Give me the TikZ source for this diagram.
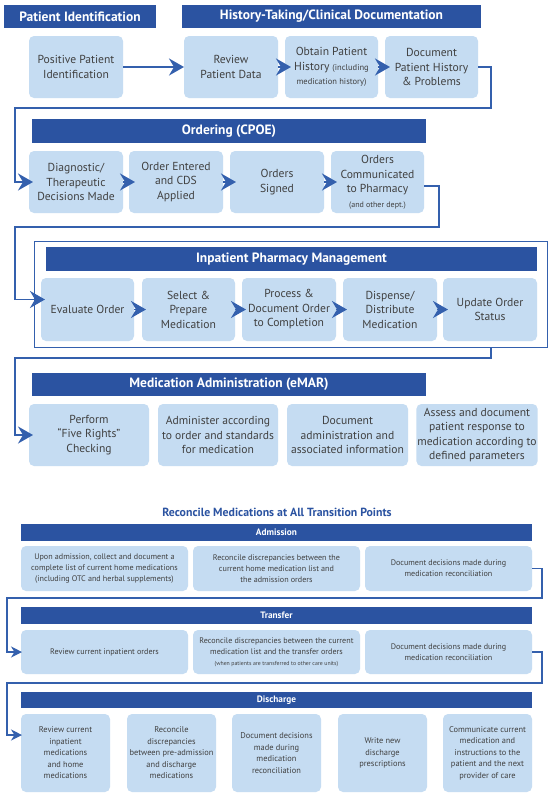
\documentclass[tikz,border=0pt]{standalone}
\usepackage{fontspec}
\setmainfont{PT Sans}
\usetikzlibrary{arrows.meta}
\definecolor{hblue}{HTML}{2B53A1}
\definecolor{lblue}{HTML}{C5DCF2}
\definecolor{cblue}{HTML}{3460AD}
\definecolor{tgray}{HTML}{404040}
\newcommand\mkbox[7][]{\node[#1, minimum width={(#5-#3)*1pt}, minimum height={(#6-#4)*1pt}] (#2) at ({(#3+#5)/2},{(#4+#6)/2}) {#7};}
\begin{document}
\begin{tikzpicture}[x=1pt,y=-1pt,
 lbox/.style={fill=lblue, rounded corners=5pt, inner sep=1pt, outer sep=0pt, align=center, text=tgray, font=\fontsize{11.6}{14.5}\selectfont},
 sbox/.style={lbox, font=\fontsize{8.1}{11}\selectfont},
 dbox/.style={lbox, font=\fontsize{8.4}{11.5}\selectfont},
 hbar/.style={fill=hblue, inner sep=1pt, outer sep=0pt, text=white, font=\bfseries\fontsize{13.5}{15}\selectfont},
 shbar/.style={hbar, font=\bfseries\fontsize{9.3}{10}\selectfont},
 pfr/.style={draw=cblue, line width=0.8pt, inner sep=0pt, outer sep=0pt},
 conn/.style={draw=cblue, line width=1.7pt},
 arr/.style={conn, -{Stealth[length=15pt,width=17pt,inset=5pt]}},
 sconn/.style={draw=cblue, line width=1.2pt},
 sarr/.style={sconn, -{Stealth[length=11pt,width=11pt,inset=3.5pt]}},
 ttl/.style={text=hblue, font=\bfseries\fontsize{11.8}{13}\selectfont, inner sep=0pt}]
\useasboundingbox (0,0) rectangle (550,804);
\fill[white] (0,0) rectangle (550,804);
% Section 1
\mkbox[hbar]{h1}{4}{5}{156}{28}{Patient Identification}
\mkbox[hbar]{h2}{182}{5}{481}{28}{History-Taking/Clinical Documentation}
\mkbox[lbox]{pid}{29}{36}{123}{98}{Positive Patient\\Identification}
\mkbox[lbox]{rev}{184}{36}{278}{98}{Review\\Patient Data}
\mkbox[lbox]{obt}{285}{36}{378}{98}{Obtain Patient\\History {\fontsize{8.5}{10}\selectfont(including}\\{\fontsize{8.5}{10}\selectfont medication history)}}
\mkbox[lbox]{doc}{385}{36}{478}{98}{Document\\Patient History\\\& Problems}
% Section 2
\mkbox[hbar]{h3}{32}{119}{426}{143}{Ordering (CPOE)}
\mkbox[lbox]{dia}{29}{151}{123}{213}{Diagnostic/\\Therapeutic\\Decisions Made}
\mkbox[lbox]{ord}{129}{151}{223}{213}{Order Entered\\and CDS\\Applied}
\mkbox[lbox]{sig}{230}{151}{324}{213}{Orders\\Signed}
\mkbox[lbox]{com}{331}{151}{424}{213}{Orders\\Communicated\\to Pharmacy\\{\fontsize{8}{9}\selectfont (and other dept.)}}
% Section 3
\mkbox[pfr]{pfr}{34}{241}{547}{347}{}
\mkbox[hbar]{h4}{46}{247}{537}{271}{Inpatient Pharmacy Management}
\mkbox[lbox]{eva}{41}{278}{134}{341}{Evaluate Order}
\mkbox[lbox]{sel}{142}{278}{235}{341}{Select \&\\Prepare\\Medication}
\mkbox[lbox]{pro}{242}{278}{336}{341}{Process \&\\Document Order\\to Completion}
\mkbox[lbox]{dis}{343}{278}{437}{341}{Dispense/\\Distribute\\Medication}
\mkbox[lbox]{upd}{443}{278}{537}{341}{Update Order\\Status}
% Section 4
\mkbox[hbar]{h5}{32}{373}{426}{396}{Medication Administration (eMAR)}
\mkbox[lbox]{per}{29}{404}{149}{466}{Perform\\“Five Rights”\\Checking}
\mkbox[lbox]{adm}{158}{404}{278}{466}{Administer according\\to order and standards\\for medication}
\mkbox[lbox]{dad}{287}{404}{408}{466}{Document\\administration and\\associated information}
\mkbox[lbox]{ass}{417}{404}{537}{466}{Assess and document\\patient response to\\medication according to\\defined parameters}
% Reconcile
\node[ttl] (rt) at (277,512) {Reconcile Medications at All Transition Points};
\mkbox[shbar]{ha}{21}{524}{532}{541}{Admission}
\mkbox[sbox]{a1}{21}{546}{188}{591}{Upon admission, collect and document a\\complete list of current home medications\\(including OTC and herbal supplements)}
\mkbox[sbox]{a2}{193}{546}{360}{591}{Reconcile discrepancies between the\\current home medication list and\\the admission orders}
\mkbox[sbox]{a3}{365}{546}{532}{591}{Document decisions made during\\medication reconciliation}
\mkbox[shbar]{ht}{21}{607}{532}{624}{Transfer}
\mkbox[sbox]{t1}{21}{630}{188}{674}{Review current inpatient orders}
\mkbox[sbox]{t2}{193}{630}{360}{674}{Reconcile discrepancies between the current\\medication list and the transfer orders\\{\fontsize{5.8}{7}\selectfont (when patients are transferred to other care units)}}
\mkbox[sbox]{t3}{365}{630}{532}{674}{Document decisions made during\\medication reconciliation}
\mkbox[shbar]{hd}{21}{692}{532}{708}{Discharge}
\mkbox[dbox]{d1}{21}{714}{110}{792}{Review current\\inpatient\\medications\\and home\\medications}
\mkbox[dbox]{d2}{127}{714}{216}{792}{Reconcile\\discrepancies\\between pre-admission\\and discharge\\medications}
\mkbox[dbox]{d3}{232}{714}{321}{792}{Document decisions\\made during\\medication\\reconciliation}
\mkbox[dbox]{d4}{338}{714}{427}{792}{Write new\\discharge\\prescriptions}
\mkbox[dbox]{d5}{443}{714}{532}{792}{Communicate current\\medication and\\instructions to the\\patient and the next\\provider of care}
% Coordinates
\coordinate (c1) at (491,108); \coordinate (c1l) at (15,108);
\coordinate (c2) at (439,227); \coordinate (c2l) at (15,227);
\coordinate (c3) at (491,358); \coordinate (c3l) at (15,358);
\coordinate (c4) at (542,598); \coordinate (c4l) at (7,598);
\coordinate (c5) at (542,683); \coordinate (c5l) at (7,683);
% Connectors
\draw[arr] (pid.east) -- (rev.west);
\draw[arr, shorten >=-6pt] (rev.east) -- (obt.west);
\draw[arr, shorten >=-5pt] (obt.east) -- (doc.west);
\draw[arr, shorten >=-4pt] (doc.east) -| (c1) -- (c1l) |- (dia.west);
\draw[arr, shorten >=-6pt] (dia.east) -- (ord.west);
\draw[arr, shorten >=-6pt] (ord.east) -- (sig.west);
\draw[arr, shorten >=-6pt] (sig.east) -- (com.west);
\draw[arr, shorten >=-4pt] ([yshift=-4pt]com.east) -| (c2) -- (c2l) |- ([yshift=10pt]eva.west);
\draw[arr, shorten >=-4pt] (eva.east) -- (sel.west);
\draw[arr, shorten >=-4pt] (sel.east) -- (pro.west);
\draw[arr, shorten >=-4pt] (pro.east) -- (dis.west);
\draw[arr, shorten >=-5pt] (dis.east) -- (upd.west);
\draw[arr, shorten >=-4pt] (c3 |- pfr.south) -- (c3) -- (c3l) |- (per.west);
\draw[sarr, shorten >=-1pt] (a3.east) -| (c4) -- (c4l) |- (t1.west);
\draw[sarr, shorten >=-1pt] (t3.east) -| (c5) -- (c5l) |- ([yshift=18pt]d1.west);
\end{tikzpicture}
\end{document}
